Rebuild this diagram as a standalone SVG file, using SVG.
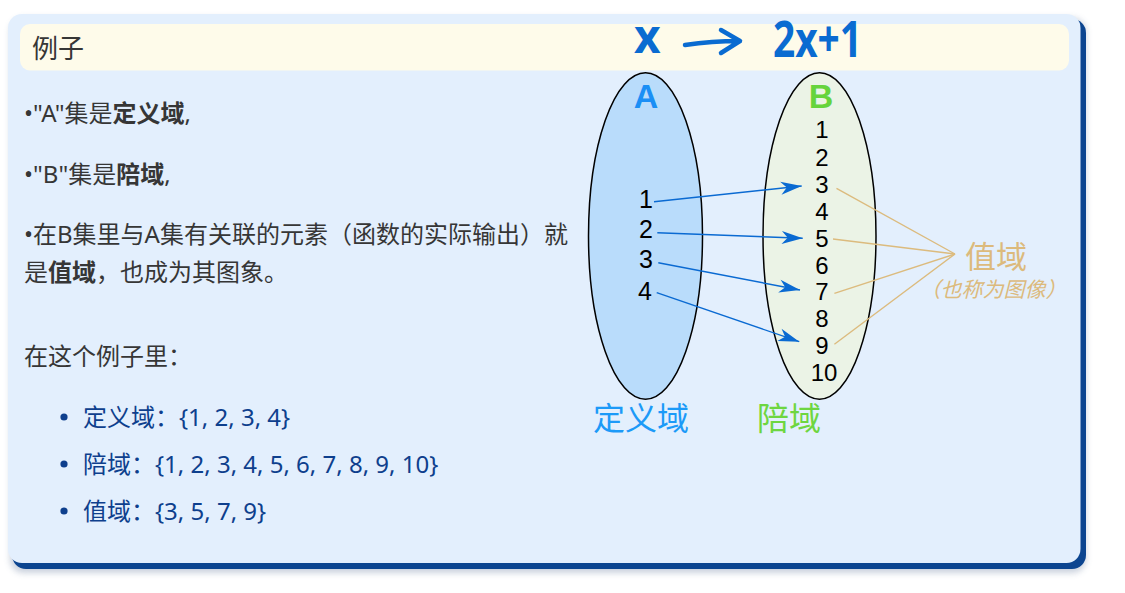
<svg xmlns="http://www.w3.org/2000/svg" width="1125" height="593" viewBox="0 0 1125 593">
<defs>
  <filter id="soft" x="-5%" y="-5%" width="110%" height="115%">
    <feGaussianBlur stdDeviation="3"/>
  </filter>
  <marker id="arr" viewBox="-22 -8 23 16" refX="0" refY="0" markerWidth="23" markerHeight="16" markerUnits="userSpaceOnUse" orient="auto">
    <path d="M0,0 L-21,-6.5 L-15,0 L-21,6.5 Z" fill="#0a6ad2"/>
  </marker>
  <style>
    .body{font-family:"Noto Sans","Noto Sans CJK SC",sans-serif;font-size:24px;fill:#363636}
    .list{font-family:"Noto Sans","Noto Sans CJK SC",sans-serif;font-size:24px;fill:#0e3f8d}
    .b{font-weight:bold}
    .num{font-family:"Liberation Sans",sans-serif;font-size:25px;fill:#000;text-anchor:middle}
    .numB{font-family:"Liberation Sans",sans-serif;font-size:24px;fill:#000;text-anchor:middle}
    .hand{font-family:"Open Sans","Noto Sans",sans-serif;font-weight:bold}
    .setname{font-family:"Liberation Sans",sans-serif;font-weight:bold;font-size:34px;text-anchor:middle}
    .cjkLabel{font-family:"Noto Sans CJK SC",sans-serif}
    .ell{stroke:#000;stroke-width:1.5}
    .map{stroke:#0a6ad2;stroke-width:1.4;fill:none}
    .img{stroke:#dcbb7e;stroke-width:1.4;fill:none}
  </style>
</defs>

<g id="panel">
  <rect x="10" y="18" width="1076" height="555" rx="14" fill="#8a9bb5" opacity="0.45" filter="url(#soft)"/>
  <rect x="12" y="19" width="1074" height="550" rx="14" fill="#0c4590"/>
  <rect x="8" y="14" width="1072.5" height="549" rx="14" fill="#e3effd"/>
</g>

<g id="header">
  <rect x="20" y="24" width="1049" height="46.5" rx="10" fill="#fefbea"/>
  <text x="32" y="58" class="body" style="font-size:26px">例子</text>
</g>

<g id="formula" fill="#0a6bd1">
  <text x="634" y="53" class="hand" font-size="46">x</text>
  <path d="M685,45 Q712,41 739,41 M721,30 L740,41 L721,53" fill="none" stroke="#0a6bd1" stroke-width="4.5" stroke-linecap="round" stroke-linejoin="round"/>
  <text x="773" y="57" class="hand" font-size="50" textLength="89" lengthAdjust="spacingAndGlyphs">2x+1</text>
</g>

<g id="text-left">
  <text x="24" y="122" class="body">•"A"集是<tspan class="b">定义域</tspan>,</text>
  <text x="24" y="183" class="body">•"B"集是<tspan class="b">陪域</tspan>,</text>
  <text x="24" y="243" class="body">•在B集里与A集有关联的元素（函数的实际输出）就</text>
  <text x="24" y="281" class="body">是<tspan class="b">值域</tspan>，也成为其图象。</text>
  <text x="24" y="365" class="body">在这个例子里：</text>
</g>

<g id="list">
  <circle cx="64" cy="417" r="3.6" fill="#0e3f8d"/>
  <text x="83" y="426" class="list">定义域：{1, 2, 3, 4}</text>
  <circle cx="64" cy="464" r="3.6" fill="#0e3f8d"/>
  <text x="83" y="473" class="list">陪域：{1, 2, 3, 4, 5, 6, 7, 8, 9, 10}</text>
  <circle cx="64" cy="511" r="3.6" fill="#0e3f8d"/>
  <text x="83" y="520" class="list">值域：{3, 5, 7, 9}</text>
</g>

<g id="setA">
  <ellipse cx="645.5" cy="236" rx="57" ry="163.3" fill="#b9dcfb" class="ell"/>
  <text x="646" y="108" class="setname" fill="#1b8ff5">A</text>
  <text x="646" y="208" class="num">1</text>
  <text x="646" y="238" class="num">2</text>
  <text x="646" y="268" class="num">3</text>
  <text x="645" y="300" class="num">4</text>
  <text x="641" y="430" class="cjkLabel" font-size="32" fill="#1c9af8" text-anchor="middle">定义域</text>
</g>

<g id="setB">
  <ellipse cx="819.5" cy="236" rx="56.5" ry="163.3" fill="#ebf3e6" class="ell"/>
  <text x="821" y="108" class="setname" fill="#66d43c">B</text>
  <text x="822" y="138" class="numB">1</text>
  <text x="822" y="166" class="numB">2</text>
  <text x="822" y="193" class="numB">3</text>
  <text x="822" y="220" class="numB">4</text>
  <text x="822" y="247" class="numB">5</text>
  <text x="822" y="274" class="numB">6</text>
  <text x="822" y="300" class="numB">7</text>
  <text x="822" y="327" class="numB">8</text>
  <text x="822" y="354" class="numB">9</text>
  <text x="824" y="381" class="numB">10</text>
  <text x="789" y="430" class="cjkLabel" font-size="32" fill="#6ed640" text-anchor="middle">陪域</text>
</g>

<g id="range-label">
  <text x="996" y="268" class="cjkLabel" font-size="31" fill="#dcba7c" text-anchor="middle">值域</text>
  <text x="993" y="297" class="cjkLabel" font-size="21" fill="#dcba7c" text-anchor="middle" font-style="italic">（也称为图像）</text>
</g>

<g id="connectors">
  <line x1="654" y1="201.7" x2="801.7" y2="186" class="map" marker-end="url(#arr)"/>
  <line x1="657.3" y1="232.7" x2="802.7" y2="238.3" class="map" marker-end="url(#arr)"/>
  <line x1="658.3" y1="262.7" x2="800" y2="290" class="map" marker-end="url(#arr)"/>
  <line x1="656.7" y1="292.7" x2="799.3" y2="341.7" class="map" marker-end="url(#arr)"/>
  <line x1="836.5" y1="188.3" x2="955" y2="254" class="img"/>
  <line x1="833" y1="239" x2="955" y2="254" class="img"/>
  <line x1="834.4" y1="293.3" x2="955" y2="254" class="img"/>
  <line x1="834.4" y1="344.3" x2="955" y2="254" class="img"/>
</g>
</svg>
